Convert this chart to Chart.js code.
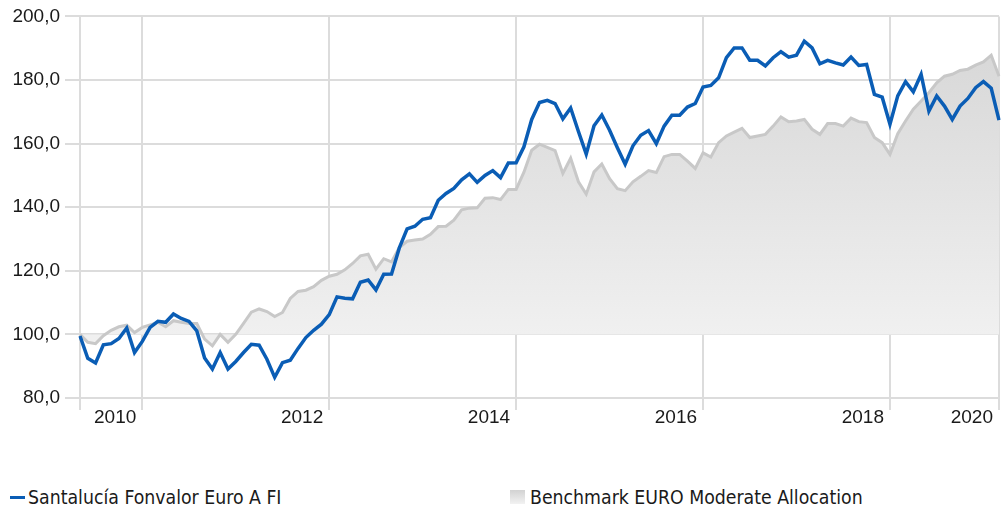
<!DOCTYPE html>
<html>
<head>
<meta charset="utf-8">
<script src="https://cdn.jsdelivr.net/npm/chart.js@4.4.0/dist/chart.umd.min.js"></script>
<style>
  html, body { margin: 0; padding: 0; background: #fff; }
  #wrap { position: relative; width: 1007px; height: 440px; }
  .lg { position: absolute; top: 486px; height: 24px; line-height: 24px; white-space: nowrap;
        font-family: "Liberation Sans Narrow", "DejaVu Sans Condensed", Roboto, sans-serif;
        font-size: 19.3px; color: #1a1a1a; }
  .mk-line { display: inline-block; width: 15px; height: 3px; background: #0a5db5;
             vertical-align: middle; margin-right: 3px; margin-top: -2px; }
  .mk-box { display: inline-block; width: 15px; height: 14px; vertical-align: middle;
            margin-right: 5px; margin-top: -3px;
            background: linear-gradient(#d2d2d2, #f2f2f2); }
</style>
</head>
<body>
<div id="wrap"><canvas id="fundChart" width="1007" height="440"></canvas></div>
<div class="lg" style="left:10px"><span class="mk-line"></span>Santalucía Fonvalor Euro A FI</div>
<div class="lg" style="left:510px"><span class="mk-box"></span>Benchmark EURO Moderate Allocation</div>

<script>
// monthly points, May 2010 - Mar 2020
var months = [];
for (var yr = 2010, mo = 5; yr < 2020 || mo <= 3; ) {
    months.push(yr + '-' + (mo < 10 ? '0' : '') + mo);
    mo++;
    if (mo > 12) { mo = 1; yr++; }
}

var fundValues = [
    99.5, 92.5, 91.0, 96.7, 97.1, 98.7, 102.0, 94.3, 97.8, 102.2,
    104.1, 103.8, 106.4, 105.0, 104.1, 101.1, 92.6, 89.1, 94.3, 89.1,
    91.5, 94.3, 96.9, 96.6, 92.2, 86.5, 91.1, 91.9, 95.6, 99.0,
    101.3, 103.2, 106.2, 111.8, 111.4, 111.2, 116.4, 117.1, 114.0, 118.9,
    119.0, 127.2, 133.2, 134.0, 136.2, 136.7, 142.2, 144.3, 145.9, 148.6,
    150.5, 147.8, 150.0, 151.5, 149.3, 153.9, 154.0, 159.0, 167.6, 172.9,
    173.6, 172.6, 167.8, 171.2, 163.8, 156.7, 165.6, 169.0, 164.2, 158.7,
    153.5, 159.3, 162.6, 164.1, 160.0, 165.5, 168.9, 168.9, 171.5, 172.6,
    177.8, 178.3, 180.7, 187.0, 190.1, 190.1, 186.2, 186.2, 184.4, 187.0,
    188.9, 187.2, 187.8, 192.2, 190.1, 185.1, 186.2, 185.4, 184.7, 187.2,
    184.6, 184.9, 175.5, 174.6, 166.1, 175.0, 179.5, 176.3, 181.8, 170.2,
    175.0, 171.8, 167.6, 171.8, 174.2, 177.6, 179.5, 177.4, 167.4
];

var benchValues = [
    100.0, 97.5, 97.1, 99.6, 101.3, 102.4, 102.9, 100.6, 102.2, 103.0,
    103.8, 102.4, 104.3, 103.8, 103.4, 103.4, 98.5, 96.4, 100.0, 97.5,
    100.0, 103.5, 107.0, 108.0, 107.2, 105.6, 106.9, 111.3, 113.5, 113.9,
    115.0, 117.0, 118.3, 118.9, 120.3, 122.3, 124.7, 125.2, 120.5, 123.8,
    122.8, 127.3, 129.3, 129.7, 130.0, 131.5, 133.9, 134.0, 135.9, 139.2,
    139.7, 139.8, 142.8, 143.0, 142.4, 145.6, 145.6, 151.0, 157.9, 159.8,
    158.8, 157.8, 150.6, 155.4, 148.0, 144.1, 151.1, 153.6, 149.0, 145.8,
    145.2, 148.0, 149.7, 151.5, 150.9, 155.9, 156.6, 156.6, 154.5, 152.2,
    157.1, 155.8, 160.3, 162.4, 163.6, 164.8, 161.9, 162.4, 162.9, 165.5,
    168.4, 166.9, 167.1, 167.6, 164.5, 162.9, 166.3, 166.3, 165.5, 168.0,
    166.9, 166.6, 161.9, 160.3, 156.6, 163.1, 167.1, 170.8, 173.4, 176.0,
    179.1, 181.2, 181.8, 183.0, 183.4, 184.7, 185.7, 187.8, 181.2
];

// x gridlines and the year text that sits to the left of each one
var tickMonths = ['2010-05', '2011-01', '2013-01', '2015-01', '2017-01', '2019-01', '2020-03'];
var tickLabels = ['', '2010', '2012', '2014', '2016', '2018', '2020'];

var yMin = 80, yMax = 200, yStep = 20;

var gridColor = '#dcdcdc';
var axisFont = { family: 'Liberation Sans, Arial, sans-serif', size: 19 };

var ctx = document.getElementById('fundChart').getContext('2d');
var myChart = new Chart(ctx, {
    type: 'line',
    data: {
        labels: months,
        datasets: [{
            label: 'Santalucía Fonvalor Euro A FI',
            data: fundValues,
            borderColor: '#0a5db5',
            borderWidth: 3.5,
            pointRadius: 0,
            tension: 0,
            fill: false
        }, {
            label: 'Benchmark EURO Moderate Allocation',
            data: benchValues,
            borderColor: '#c8c8c8',
            borderWidth: 3,
            pointRadius: 0,
            tension: 0,
            fill: { value: 100 },
            backgroundColor: function (c) {
                var chart = c.chart, area = chart.chartArea;
                if (!area) return '#e4e4e4';
                var y100 = chart.scales.y.getPixelForValue(100);
                var g = chart.ctx.createLinearGradient(0, area.top, 0, y100);
                g.addColorStop(0, '#d5d5d5');
                g.addColorStop(1, '#f0f0f0');
                return g;
            }
        }]
    },
    options: {
        responsive: false,
        animation: false,
        layout: { padding: { top: 15, right: 8, left: 0, bottom: 0 } },
        plugins: {
            legend: { display: false },
            tooltip: { enabled: false }
        },
        scales: {
            x: {
                type: 'category',
                border: { display: false },
                grid: { color: gridColor, lineWidth: 2, tickLength: 12 },
                afterBuildTicks: function (s) {
                    s.ticks = tickMonths.map(function (m) { return { value: months.indexOf(m) }; });
                },
                afterFit: function (s) { s.height = 42; },
                ticks: {
                    autoSkip: false,
                    maxRotation: 0,
                    align: 'end',
                    labelOffset: -6,
                    padding: -4,
                    color: '#1a1a1a',
                    font: axisFont,
                    callback: function (value) {
                        return tickLabels[tickMonths.indexOf(months[value])];
                    }
                }
            },
            y: {
                min: yMin,
                max: yMax,
                border: { display: false },
                grid: { color: gridColor, lineWidth: 2, tickLength: 15 },
                afterFit: function (s) { s.width = 80; },
                ticks: {
                    stepSize: yStep,
                    padding: 5,
                    color: '#1a1a1a',
                    font: axisFont,
                    callback: function (v) { return v.toFixed(1).replace('.', ','); }
                }
            }
        }
    }
});
</script>
</body>
</html>
